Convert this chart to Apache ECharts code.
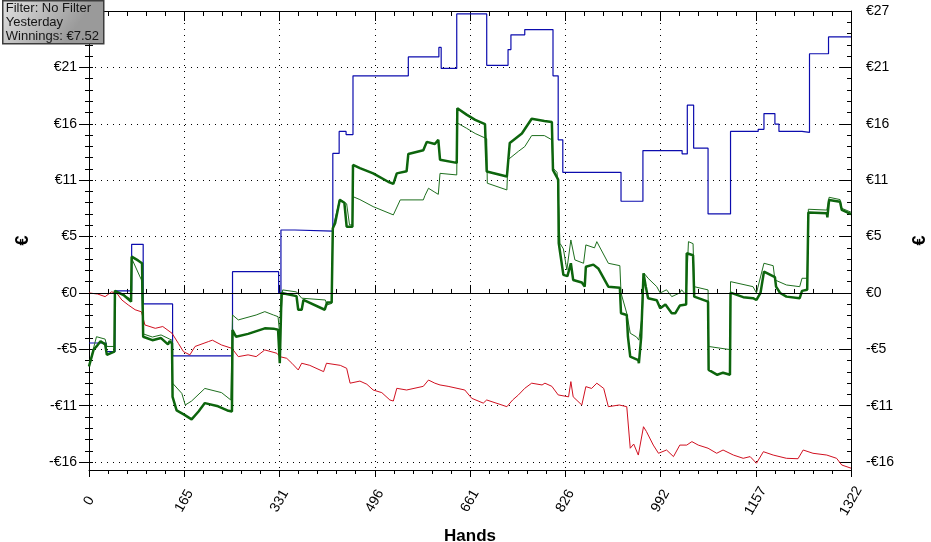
<!DOCTYPE html>
<html><head><meta charset="utf-8">
<script src="https://cdn.jsdelivr.net/npm/echarts@6/dist/echarts.min.js"></script>
<style>html,body{margin:0;padding:0;background:#fff}#c{width:931px;height:542px}</style>
</head><body><div id="c"></div>
<script>
// ---- tick labels ----
const xTickLabels = ['0','165','331','496','661','826','992','1157','1322'];
const yTickValues = [-16.125,-10.75,-5.375,0,5.375,10.75,16.125,21.5,26.875];
const yTickLabels = ['-€16','-€11','-€5','€0','€5','€11','€16','€21','€27'];
const infoLines = ['Filter: No Filter','Yesterday'];

// ---- series values [hand, euros] ----
const blueLine = [[0,-4.77],[30,-5.6],[45,0.19],[74,4.64],[94,-1.05],[145,-6.0],[249,2.03],[329,0.0],[333,6.0],[357,5.9],
 [423,13.3],[434,15.4],[446,15.1],[458,20.7],[554,22.5],[607,23.4],[611,21.4],[638,26.6],[690,21.7],[727,23.2],
 [732,24.6],[756,25.1],[805,20.7],[814,14.6],[822,11.5],[923,8.74],[961,13.57],[1029,13.25],[1038,17.9],[1049,13.8],
 [1074,7.53],[1113,15.4],[1161,15.6],[1171,17.1],[1190,16.1],[1197,15.4],[1237,15.3],[1250,22.8],[1283,24.4],[1322,24.4]];

const winningsThick = [[0,-7.0],[8,-5.4],[13,-5.1],[20,-4.6],[28,-4.9],[31,-5.9],[44,-5.6],[45,0.2],[60,-0.2],[73,-0.83],
 [74,3.46],[85,3.1],[92,2.83],[94,-4.17],[110,-4.5],[125,-4.3],[137,-4.9],[140,-4.6],[144,-4.8],[145,-9.9],
 [152,-11.2],[165,-11.6],[178,-12.05],[190,-11.3],[201,-10.5],[224,-10.8],[240,-11.2],[248,-11.3],[249,-3.53],[255,-4.17],
 [276,-3.9],[305,-3.37],[320,-3.4],[328,-3.5],[331,-6.7],[334,0],[360,-0.3],[363,-1.6],[369,-1.6],[372,-0.67],
 [409,-1.6],[413,-0.9],[421,-0.9],[423,6.17],[427,6.64],[435,8.87],[443,8.6],[447,6.32],[457,6.32],[458,12.2],
 [470,11.9],[493,11.4],[519,10.6],[528,10.4],[534,11.4],[551,11.6],[554,13.25],[580,13.6],[586,14.4],[600,14.2],
 [606,14.6],[609,12.7],[638,12.4],[639,17.6],[655,17.0],[670,16.5],[687,16.1],[690,11.57],[725,11.1],[730,14.3],
 [751,15.2],[768,16.6],[790,16.4],[803,16.3],[805,11.7],[814,10.8],[815,4.74],[823,1.72],[830,1.6],[836,2.83],
 [840,1.24],[855,1.0],[860,0.6],[862,2.5],[875,2.7],[884,2.3],[901,0.6],[921,0.5],[923,-1.94],[933,-2.1],
 [935,-4.17],[939,-6.07],[953,-6.4],[954,-6.7],[958,-4.2],[962,1.88],[966,0.6],[970,-0.5],[985,-0.7],[991,-1.46],
 [1000,-1.1],[1011,-1.94],[1017,-1.94],[1025,-1.2],[1036,-1.1],[1037,3.78],[1048,3.6],[1050,-0.35],[1074,-0.83],[1075,-7.34],
 [1090,-7.8],[1100,-7.6],[1112,-7.8],[1113,0.03],[1135,-0.4],[1152,-0.5],[1158,-0.67],[1165,0.0],[1171,2.03],[1190,1.5],
 [1192,0.6],[1199,0.0],[1210,-0.35],[1233,-0.5],[1237,0.2],[1246,0.3],[1248,7.66],[1280,7.6],[1281,7.2],[1284,8.87],
 [1303,8.7],[1306,7.91],[1322,7.52]];

const winningsThin = [[0,-7.0],[10,-4.8],[13,-4.17],[28,-4.4],[31,-5.1],[44,-5.1],[45,0.2],[60,-0.2],[73,-0.6],[74,3.3],
 [77,3.2],[91,1.24],[94,-3.9],[110,-4.2],[125,-4.0],[140,-4.4],[144,-4.5],[145,-8.6],[161,-9.57],[167,-10.68],
 [178,-10.3],[201,-9.1],[230,-9.5],[246,-10.2],[249,-2.1],[259,-2.57],[290,-2.1],[305,-1.78],[320,-2.1],[328,-2.26],
 [331,-4.0],[336,0.29],[360,0.1],[369,-0.5],[410,-0.67],[413,-1.14],[421,-1.0],[423,6.17],[435,8.93],[447,8.5],
 [452,6.48],[457,6.5],[458,9.18],[470,8.9],[493,8.23],[528,7.44],[540,8.87],[580,8.87],[583,9.3],[589,9.98],
 [600,9.6],[606,9.4],[609,11.4],[638,11.25],[639,16.2],[655,15.7],[670,15.2],[690,14.7],[691,10.46],[725,9.82],
 [727,12.7],[745,13.5],[756,13.95],[768,15.0],[790,15.0],[803,14.6],[805,11.9],[812,11.5],[815,8.0],[817,4.74],
 [823,4.2],[829,2.2],[836,5.05],[843,3.15],[858,2.83],[862,4.58],[877,4.3],[881,4.89],[901,2.83],[921,2.6],
 [923,0.0],[933,-1.94],[939,-3.84],[950,-4.2],[954,-4.5],[960,-2.0],[963,1.88],[970,1.4],[985,0.6],[991,0.0],
 [1002,0.3],[1011,-0.35],[1025,0.0],[1028,0.3],[1036,-0.2],[1040,4.89],[1048,4.7],[1050,0.6],[1074,0.29],[1075,-5.1],
 [1112,-5.4],[1113,1.08],[1152,0.6],[1158,0.0],[1171,2.83],[1187,2.6],[1190,1.24],[1210,0.76],[1233,0.6],[1237,1.4],
 [1246,1.4],[1248,7.98],[1280,7.9],[1284,9.12],[1303,8.9],[1306,8.07],[1322,7.7]];

const redLine = [[0,0],[15,-0.1],[28,-0.35],[39,0.1],[48,0],[57,-0.67],[68,-1.14],[80,-1.6],[91,-1.8],[97,-3.05],
 [115,-3.37],[128,-3.2],[144,-3.84],[155,-4.8],[164,-5.6],[175,-5.9],[184,-5.1],[207,-4.64],[214,-4.5],[230,-4.96],
 [248,-5.28],[259,-6.07],[276,-5.9],[290,-6.07],[305,-5.43],[308,-5.43],[326,-5.75],[331,-6.07],[343,-6.23],[352,-6.7],
 [363,-7.34],[369,-6.7],[383,-6.9],[407,-7.5],[412,-6.7],[436,-6.9],[447,-7.18],[453,-8.6],[470,-8.4],[482,-8.7],
 [493,-9.25],[508,-9.5],[522,-10.2],[528,-10.3],[534,-9.09],[551,-9.25],[580,-8.9],[589,-8.3],[600,-8.6],[609,-8.77],
 [623,-8.9],[652,-9.25],[664,-10.04],[684,-10.5],[690,-10.2],[725,-10.84],[735,-10.2],[745,-9.72],[756,-9.09],[768,-8.6],
 [786,-8.77],[791,-8.6],[803,-8.9],[814,-9.72],[832,-9.9],[836,-8.45],[840,-9.9],[855,-10.68],[862,-8.93],[872,-9.1],
 [881,-8.6],[893,-9.1],[901,-10.84],[920,-10.68],[933,-10.84],[939,-14.8],[945,-14.4],[953,-15.45],[962,-12.75],[967,-13.2],
 [979,-14.5],[988,-15.28],[1002,-14.97],[1014,-15.6],[1025,-14.5],[1037,-14.5],[1046,-14.17],[1057,-14.5],[1074,-14.8],[1089,-15.28],
 [1100,-14.97],[1118,-15.45],[1135,-15.76],[1147,-15.6],[1158,-16.23],[1170,-15.13],[1187,-15.45],[1210,-15.76],[1230,-15.8],[1239,-14.97],
 [1256,-15.28],[1280,-15.45],[1297,-15.76],[1306,-16.4],[1322,-16.7]];

// ---- layout ----
const HAND_MAX = 1322, X_STEP = HAND_MAX / 8;
const Y_MIN = -16.875, Y_MAX = 26.875;
const yMinor = [];
for (let i = 0; i < yTickValues.length - 1; i++) {
  const a = yTickValues[i], b = yTickValues[i + 1];
  for (let k = 0; k < 5; k++) yMinor.push(a + (b - a) * k / 5);
}
yMinor.push(yTickValues[yTickValues.length - 1]);

const FONT = '"Liberation Sans",Arial,sans-serif';
const black = '#000';
function yLabel(v) {
  let best = 0;
  yTickValues.forEach((t, i) => { if (Math.abs(t - v) < Math.abs(yTickValues[best] - v)) best = i; });
  return yTickLabels[best];
}
function yAxisBase(pos, extra) {
  return Object.assign({
    type: 'value', position: pos, min: Y_MIN, max: Y_MAX,
    axisLine: { show: false }, axisLabel: { show: false }, splitLine: { show: false },
    axisTick: { show: false }
  }, extra);
}
function xAxisBase(pos, extra) {
  return Object.assign({
    type: 'value', position: pos, min: 0, max: HAND_MAX, interval: X_STEP,
    axisLine: { show: false }, axisLabel: { show: false }, splitLine: { show: false },
    axisTick: { show: false }, minorTick: { show: false }
  }, extra);
}

const chart = echarts.init(document.getElementById('c'), null, { renderer: 'canvas' });
const lastWin = winningsThick[winningsThick.length - 1][1];

chart.setOption({
  animation: false,
  backgroundColor: '#fff',
  grid: { left: 89, right: 80, top: 11, bottom: 72, outerBoundsMode: 'none', containLabel: false },
  xAxis: [
    xAxisBase('bottom', {
      axisLine: { show: true, onZero: false, lineStyle: { color: black, width: 1 } },
      axisTick: { show: true, length: 7, lineStyle: { color: black } },
      minorTick: { show: true, splitNumber: 5, length: 4, lineStyle: { color: black } },
      axisLabel: {
        show: true, rotate: 60, align: 'center', verticalAlign: 'middle', margin: 31,
        fontFamily: FONT, fontSize: 14, color: black,
        formatter: v => xTickLabels[Math.round(v / X_STEP)]
      },
      splitLine: { show: true, lineStyle: { color: black, type: [1, 5], width: 1 } },
      name: 'Hands', nameLocation: 'middle', nameGap: 58,
      nameTextStyle: { fontFamily: FONT, fontWeight: 'bold', fontSize: 17, color: black }
    }),
    xAxisBase('bottom', {
      axisTick: { show: true, inside: true, length: 8, lineStyle: { color: black } },
      minorTick: { show: true, splitNumber: 5, length: 4, lineStyle: { color: black } }
    }),
    xAxisBase('top', {
      axisLine: { show: true, onZero: false, lineStyle: { color: black, width: 1 } },
      axisTick: { show: true, inside: true, length: 10, lineStyle: { color: black } },
      minorTick: { show: true, splitNumber: 5, length: 5, lineStyle: { color: black } }
    })
  ],
  yAxis: [
    yAxisBase('left', {
      axisLine: { show: true, onZero: false, lineStyle: { color: black, width: 1 } },
      axisTick: { show: true, customValues: yTickValues, length: 10, lineStyle: { color: black } },
      axisLabel: { show: true, customValues: yTickValues, formatter: yLabel, margin: 12,
        fontFamily: FONT, fontSize: 14, color: black },
      splitLine: { show: true, lineStyle: { color: black, type: [1, 5], width: 1 } },
      name: '€', nameLocation: 'middle', nameRotate: 90, nameGap: 57,
      nameTextStyle: { fontFamily: FONT, fontWeight: 'bold', fontSize: 18, color: black }
    }),
    yAxisBase('left', { axisTick: { show: true, customValues: yMinor, length: 4, lineStyle: { color: black } } }),
    yAxisBase('left', { axisTick: { show: true, inside: true, customValues: yMinor, length: 3, lineStyle: { color: black } } }),
    yAxisBase('right', {
      axisLine: { show: true, onZero: false, lineStyle: { color: black, width: 1 } },
      axisTick: { show: true, inside: true, customValues: yTickValues, length: 11, lineStyle: { color: black } },
      axisLabel: { show: true, customValues: yTickValues, formatter: yLabel, margin: 15,
        fontFamily: FONT, fontSize: 14, color: black },
      name: '€', nameLocation: 'middle', nameRotate: 90, nameGap: 60,
      nameTextStyle: { fontFamily: FONT, fontWeight: 'bold', fontSize: 18, color: black }
    }),
    yAxisBase('right', { axisTick: { show: true, customValues: yMinor, length: 4, lineStyle: { color: black } } }),
    yAxisBase('right', { axisTick: { show: true, inside: true, customValues: yMinor, length: 4, lineStyle: { color: black } } })
  ],
  series: [
    {
      name: 'blue', type: 'line', data: blueLine, step: 'end', showSymbol: false, symbol: 'none',
      lineStyle: { color: '#0c0cae', width: 1.2 }, itemStyle: { color: '#0c0cae' },
      markLine: {
        silent: true, symbol: ['none', 'none'], label: { show: false },
        lineStyle: { color: black, type: 'solid', width: 1.2 },
        data: [{ yAxis: 0 }]
      }
    },
    {
      name: 'red', type: 'line', data: redLine, showSymbol: false, symbol: 'none',
      lineStyle: { color: '#d01020', width: 1 }
    },
    {
      name: 'thin', type: 'line', data: winningsThin, showSymbol: false, symbol: 'none',
      lineStyle: { color: '#1e6f1e', width: 1 }
    },
    {
      name: 'thick', type: 'line', data: winningsThick, showSymbol: false, symbol: 'none',
      lineStyle: { color: '#0d650d', width: 2.5 }
    }
  ],
  graphic: [{
    type: 'group', left: 2, top: 0, z: 100,
    children: [
      { type: 'rect', z: 100, shape: { x: 0, y: 0, width: 101, height: 43 },
        style: { fill: new echarts.graphic.LinearGradient(0, 0, 0.6, 1, [
          { offset: 0, color: '#e2e2e2' }, { offset: 1, color: '#9a9a9a' }]),
          stroke: '#3c3c3c', lineWidth: 1.5 } },
      { type: 'text', z: 101, x: 3, y: 1,
        style: { text: infoLines.concat(['Winnings: €' + lastWin.toFixed(2)]).join('\n'),
          font: '13px "Liberation Sans", Arial, sans-serif', fill: '#151515', lineHeight: 14 } }
    ]
  }]
});
</script></body></html>
